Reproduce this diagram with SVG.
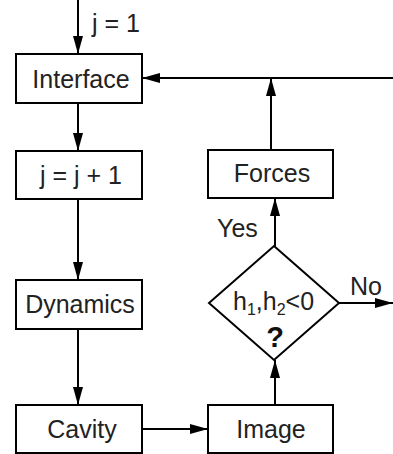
<svg xmlns="http://www.w3.org/2000/svg" width="393" height="454" viewBox="0 0 393 454">
<style>
.box{fill:#fff;stroke:#000;stroke-width:2}
.ln{fill:none;stroke:#000;stroke-width:2}
.t{font-family:"Liberation Sans",Arial,sans-serif;font-size:25px;fill:#222;text-anchor:middle}
.l{font-family:"Liberation Sans",Arial,sans-serif;font-size:25px;fill:#222}
.q{font-family:"Liberation Sans",Arial,sans-serif;font-size:29px;font-weight:bold;fill:#111;text-anchor:middle}
</style>
<defs>
<marker id="ah" viewBox="0 0 18 10" refX="18" refY="5" markerWidth="18" markerHeight="10" markerUnits="userSpaceOnUse" orient="auto">
<path d="M0,0 L18,5 L0,10 z" fill="#000"/>
</marker>
</defs>
<g id="connectors">
<line class="ln" x1="78" y1="0" x2="78" y2="54" marker-end="url(#ah)"/>
<line class="ln" x1="78" y1="103" x2="78" y2="151" marker-end="url(#ah)"/>
<line class="ln" x1="78" y1="199" x2="78" y2="280" marker-end="url(#ah)"/>
<line class="ln" x1="78" y1="329" x2="78" y2="405" marker-end="url(#ah)"/>
<line class="ln" x1="142" y1="429" x2="208" y2="429" marker-end="url(#ah)"/>
<line class="ln" x1="275" y1="405" x2="275" y2="360" marker-end="url(#ah)"/>
<line class="ln" x1="275" y1="246" x2="275" y2="198" marker-end="url(#ah)"/>
<line class="ln" x1="271" y1="150" x2="271" y2="78" marker-end="url(#ah)"/>
<line class="ln" x1="393" y1="78" x2="142" y2="78" marker-end="url(#ah)"/>
<line class="ln" x1="339" y1="303" x2="393" y2="303" marker-end="url(#ah)"/>
<text class="l" x="92" y="32">j = 1</text>
<text class="l" x="217" y="237">Yes</text>
<text class="l" x="350" y="295">No</text>
</g>
<g id="interface">
<rect class="box" x="16" y="54" width="126" height="49"/>
<text class="t" x="81" y="88">Interface</text>
</g>
<g id="increment">
<rect class="box" x="16" y="151" width="126" height="48"/>
<text class="t" x="81" y="184">j = j + 1</text>
</g>
<g id="dynamics">
<rect class="box" x="16" y="280" width="126" height="49"/>
<text class="t" x="80" y="313">Dynamics</text>
</g>
<g id="cavity">
<rect class="box" x="16" y="405" width="126" height="48"/>
<text class="t" x="82" y="438">Cavity</text>
</g>
<g id="image">
<rect class="box" x="208" y="405" width="125" height="48"/>
<text class="t" x="271" y="438">Image</text>
</g>
<g id="forces">
<rect class="box" x="208" y="150" width="125" height="48"/>
<text class="t" x="272" y="182">Forces</text>
</g>
<g id="decision">
<polygon class="box" points="274,246 339,303 274,360 209,303"/>
<text class="l" x="233" y="310">h<tspan font-size="16" dy="5">1</tspan><tspan dy="-5">,h</tspan><tspan font-size="16" dy="5">2</tspan><tspan dy="-5">&lt;0</tspan></text>
<text class="q" x="275" y="347">?</text>
</g>
</svg>
